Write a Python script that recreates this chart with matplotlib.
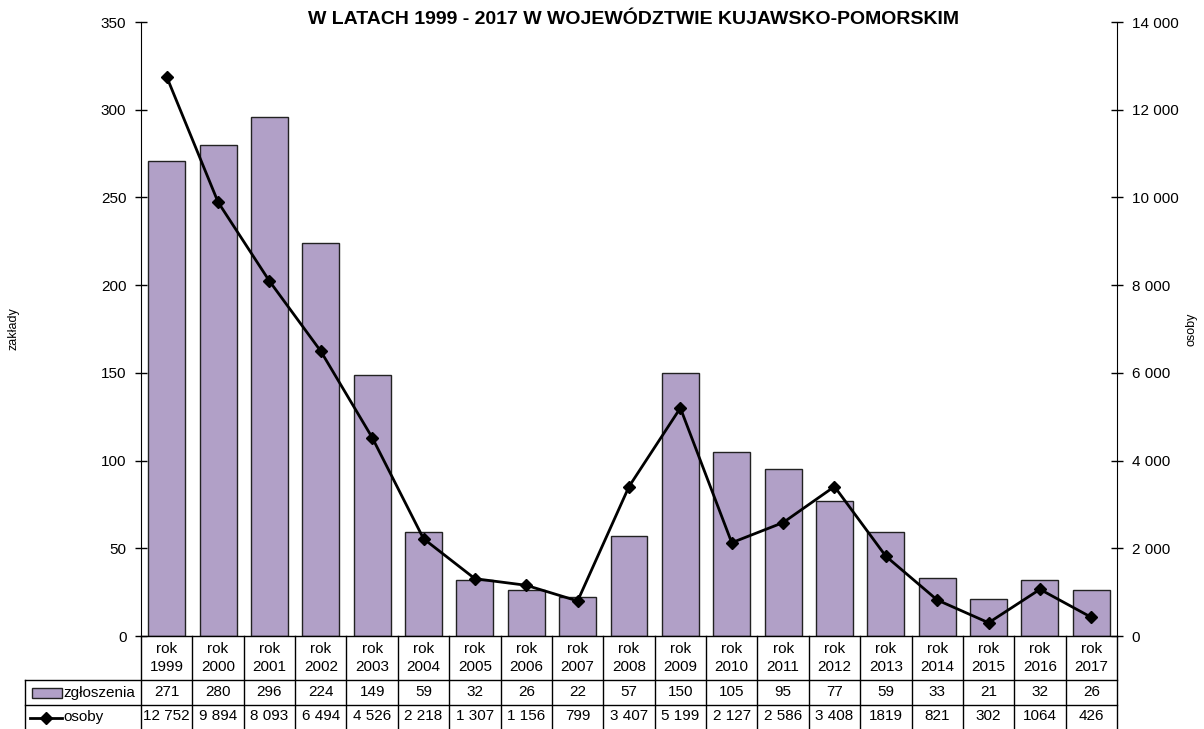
import numpy as np
import matplotlib.pyplot as plt
import matplotlib.transforms as mtransforms
from matplotlib.patches import Rectangle
from matplotlib.lines import Line2D
from matplotlib.ticker import FuncFormatter

plt.rcParams['font.family'] = ['Liberation Sans', 'DejaVu Sans']

years = ['1999', '2000', '2001', '2002', '2003', '2004', '2005', '2006', '2007', '2008',
         '2009', '2010', '2011', '2012', '2013', '2014', '2015', '2016', '2017']
zgloszenia = [271, 280, 296, 224, 149, 59, 32, 26, 22, 57, 150, 105, 95, 77, 59, 33, 21, 32, 26]
osoby = [12752, 9894, 8093, 6494, 4526, 2218, 1307, 1156, 799, 3407, 5199, 2127, 2586, 3408,
         1819, 821, 302, 1064, 426]
osoby_txt = ['12 752', '9 894', '8 093', '6 494', '4 526', '2 218', '1 307', '1 156', '799',
             '3 407', '5 199', '2 127', '2 586', '3 408', '1819', '821', '302', '1064', '426']

bar_color = '#B1A0C7'
W, H = 1204, 729
fig = plt.figure(figsize=(W / 100, H / 100), dpi=100)
ax = fig.add_axes([141 / W, 1 - 636 / H, (1117 - 141) / W, (636 - 22) / H])
ax2 = ax.twinx()

x = np.arange(len(years))
ax.bar(x, zgloszenia, width=0.72, color=bar_color, edgecolor='#222222', linewidth=1, zorder=2)
ax2.plot(x, osoby, color='black', lw=2, marker='D', ms=6.5, zorder=3)

ax.set_xlim(-0.5, len(years) - 0.5)
ax.set_ylim(0, 350)
ax.set_yticks(np.arange(0, 351, 50))
ax2.set_ylim(0, 14000)
ax2.set_yticks(np.arange(0, 14001, 2000))
ax2.yaxis.set_major_formatter(FuncFormatter(lambda v, p: f'{int(v):,}'.replace(',', ' ')))

for a in (ax, ax2):
    for s in ('top', 'bottom'):
        a.spines[s].set_visible(False)
    a.tick_params(axis='y', direction='inout', length=9, width=1, labelsize=11, pad=6)
    a.set_xticks([])
ax.spines['right'].set_visible(False)
ax2.spines['left'].set_visible(False)

ax.set_ylabel('zakłady', fontsize=9, labelpad=0)
ax.yaxis.set_label_coords(-122 / 976, 0.5)
ax2.set_ylabel('osoby', fontsize=9, rotation=90)
ax2.yaxis.set_label_coords(1 + 68 / 976, 0.5)

fig.text(634 / W, 1 - 20 / H, 'W LATACH 1999 - 2017 W WOJEWÓDZTWIE KUJAWSKO-POMORSKIM',
         ha='center', va='center', fontsize=14, fontweight='bold')

# data table under the axis
trans = mtransforms.blended_transform_factory(ax.transData, ax.transAxes)
ph = 636 - 22
r1, r2, r3 = -44 / ph, -69 / ph, -94 / ph
xl = -0.5 - (141 - 25) / 976 * len(years)
xr = len(years) - 0.5
lk = dict(color='black', lw=1, transform=trans, clip_on=False)
ax.add_line(Line2D([-0.5, xr], [0, 0], **lk))
ax.add_line(Line2D([xl, xr], [r1, r1], **lk))
ax.add_line(Line2D([xl, xr], [r2, r2], **lk))
ax.add_line(Line2D([xl, xl], [r1, r3], **lk))
for i in range(len(years) + 1):
    ax.add_line(Line2D([i - 0.5, i - 0.5], [0, r3], **lk))
for i, y in enumerate(years):
    ax.text(i, r1 / 2, 'rok\n' + y, ha='center', va='center', fontsize=11,
            linespacing=1.3, transform=trans, clip_on=False)
    ax.text(i, (r1 + r2) / 2, str(zgloszenia[i]), ha='center', va='center', fontsize=11,
            transform=trans, clip_on=False)
    ax.text(i, (r2 + r3) / 2 + 0.002, osoby_txt[i], ha='center', va='center', fontsize=11,
            transform=trans, clip_on=False)

# legend keys inside the table
px = len(years) / 976
ax.add_patch(Rectangle((xl + 7 * px, (r1 + r2) / 2 - 5 / ph), 30 * px, 10 / ph,
                       facecolor=bar_color, edgecolor='#222222', lw=1,
                       transform=trans, clip_on=False))
ax.text(xl + 38 * px, (r1 + r2) / 2, 'zgłoszenia', ha='left', va='center', fontsize=11,
        transform=trans, clip_on=False)
ax.add_line(Line2D([xl + 5 * px, xl + 37 * px], [(r2 + r3) / 2] * 2, color='black', lw=2,
                   transform=trans, clip_on=False))
ax.add_line(Line2D([xl + 21 * px], [(r2 + r3) / 2], color='black', marker='D', ms=6,
                   transform=trans, clip_on=False))
ax.text(xl + 38 * px, (r2 + r3) / 2, 'osoby', ha='left', va='center', fontsize=11,
        transform=trans, clip_on=False)

fig.savefig('out.png', dpi=100)
